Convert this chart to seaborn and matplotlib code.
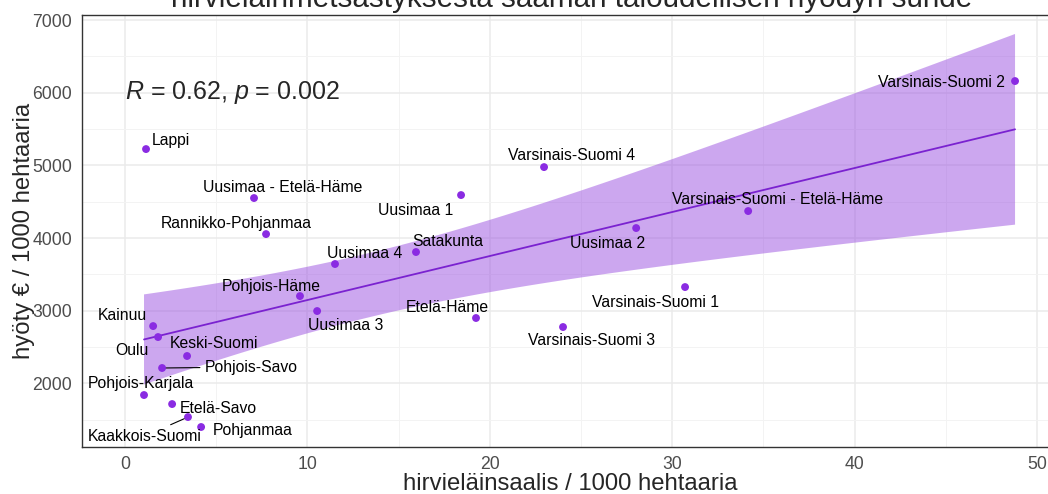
import numpy as np
import pandas as pd
import matplotlib
matplotlib.use("Agg")
import matplotlib.pyplot as plt
import seaborn as sns

# data
alueet = [
    "Lappi", "Uusimaa - Etelä-Häme", "Rannikko-Pohjanmaa", "Uusimaa 4", "Satakunta",
    "Uusimaa 1", "Varsinais-Suomi 4", "Uusimaa 2", "Varsinais-Suomi - Etelä-Häme",
    "Varsinais-Suomi 2", "Varsinais-Suomi 1", "Etelä-Häme", "Varsinais-Suomi 3",
    "Pohjois-Häme", "Uusimaa 3", "Kainuu", "Oulu", "Keski-Suomi", "Pohjois-Savo",
    "Pohjois-Karjala", "Etelä-Savo", "Kaakkois-Suomi", "Pohjanmaa",
]
saalis = [1.15, 7.07, 7.73, 11.51, 15.95, 18.42, 22.97, 28.02, 34.16, 48.79, 30.70,
          19.24, 24.01, 9.59, 10.53, 1.54, 1.81, 3.40, 2.03, 1.04, 2.58, 3.45, 4.17]
hyoty = [5224, 4550, 4054, 3642, 3807, 4591, 4976, 4137, 4371, 6160, 3325,
         2899, 2775, 3201, 2995, 2788, 2637, 2376, 2211, 1839, 1715, 1536, 1399]

df = pd.DataFrame({"alue": alueet, "saalis": saalis, "hyoty": hyoty})

# label offsets (pixels from point), like ggrepel placed them
label_offsets = {
    "Lappi": (25, 9), "Uusimaa - Etelä-Häme": (29, 11), "Rannikko-Pohjanmaa": (-30, 11),
    "Uusimaa 4": (30, 11), "Satakunta": (32, 11), "Uusimaa 1": (-45, -15),
    "Varsinais-Suomi 4": (28, 12), "Uusimaa 2": (-29, -15),
    "Varsinais-Suomi - Etelä-Häme": (29, 12), "Varsinais-Suomi 2": (-74, -1),
    "Varsinais-Suomi 1": (-30, -15), "Etelä-Häme": (-29, 11), "Varsinais-Suomi 3": (29, -13),
    "Pohjois-Häme": (-29, 10), "Uusimaa 3": (29, -14), "Kainuu": (-31, 11),
    "Oulu": (-26, -13), "Keski-Suomi": (27, 13), "Pohjois-Savo": (89, 1),
    "Pohjois-Karjala": (-3, 12), "Etelä-Savo": (46, -4), "Kaakkois-Suomi": (-43, -19),
    "Pohjanmaa": (52, -3),
}
with_segment = {"Pohjois-Savo", "Kaakkois-Suomi"}

sns.set_style("white")
plt.rcParams["font.family"] = ["Liberation Sans", "DejaVu Sans"]
plt.rcParams["mathtext.fontset"] = "custom"
plt.rcParams["mathtext.rm"] = "Liberation Sans"
plt.rcParams["mathtext.it"] = "Liberation Sans:italic"

fig = plt.figure(figsize=(10.48, 4.94), dpi=100)
ax = fig.add_axes([82 / 1048, 1 - 446.7 / 494, (1059 - 82) / 1048, (446.7 - 15) / 494])
ax.set_axisbelow(True)

# 95% confidence band of the linear fit (t-based, like geom_smooth)
x = np.asarray(saalis, float)
y = np.asarray(hyoty, float)
n = len(x)
b, a = np.polyfit(x, y, 1)
resid = y - (a + b * x)
s = np.sqrt((resid ** 2).sum() / (n - 2))
sxx = ((x - x.mean()) ** 2).sum()
grid = np.linspace(x.min(), x.max(), 100)
fit = a + b * grid
half = 2.0796 * s * np.sqrt(1 / n + (grid - x.mean()) ** 2 / sxx)  # t(0.975, 21)
ax.fill_between(grid, fit - half, fit + half, facecolor="#9b50e0", alpha=0.5,
                edgecolor="none", zorder=2)

sns.regplot(data=df, x="saalis", y="hyoty", ax=ax, scatter=False, ci=None,
            line_kws={"color": "#7a22d0", "lw": 1.3, "zorder": 3})

sns.scatterplot(data=df, x="saalis", y="hyoty", ax=ax, color="#8a2be2",
                s=32, edgecolor="none", zorder=4)

for alue, xx, yy in zip(alueet, saalis, hyoty):
    dx, dy = label_offsets[alue]
    arrow = None
    if alue in with_segment:
        arrow = dict(arrowstyle="-", color="black", lw=0.8, shrinkA=1, shrinkB=3)
    ax.annotate(alue, (xx, yy), xytext=(dx, dy), textcoords="offset pixels",
                ha="center", va="center", fontsize=11.3, color="black",
                arrowprops=arrow, zorder=5)

ax.text(0, 6000, r"$\mathit{R}$ = 0.62, $\mathit{p}$ = 0.002", fontsize=18,
        ha="left", va="center")

ax.set_xlim(-2.36, 51.2)
ax.set_ylim(1128, 7069)
ax.set_xticks([0, 10, 20, 30, 40, 50])
ax.set_xticks([5, 15, 25, 35, 45], minor=True)
ax.set_yticks([2000, 3000, 4000, 5000, 6000, 7000])
ax.set_yticks([1500, 2500, 3500, 4500, 5500, 6500], minor=True)
ax.grid(which="major", color="#ebebeb", lw=1.1)
ax.grid(which="minor", color="#f3f3f3", lw=0.7)
ax.tick_params(which="major", length=3.5, width=0.9, color="#333333",
               labelsize=12.7, labelcolor="#4d4d4d")
ax.tick_params(which="minor", length=0)
for sp in ax.spines.values():
    sp.set_color("#333333")
    sp.set_linewidth(1.0)

ax.set_xlabel("hirvieläinsaalis / 1000 hehtaaria", fontsize=17.2, labelpad=0)
ax.set_ylabel("hyöty € / 1000 hehtaaria", fontsize=17.2, labelpad=-2)

fig.text(572 / 1048, 1 - 7 / 494, "hirvieläinmetsästyksestä saaman taloudellisen hyödyn suhde",
         ha="center", va="baseline", fontsize=21.3)

fig.savefig("out.png", dpi=100)
